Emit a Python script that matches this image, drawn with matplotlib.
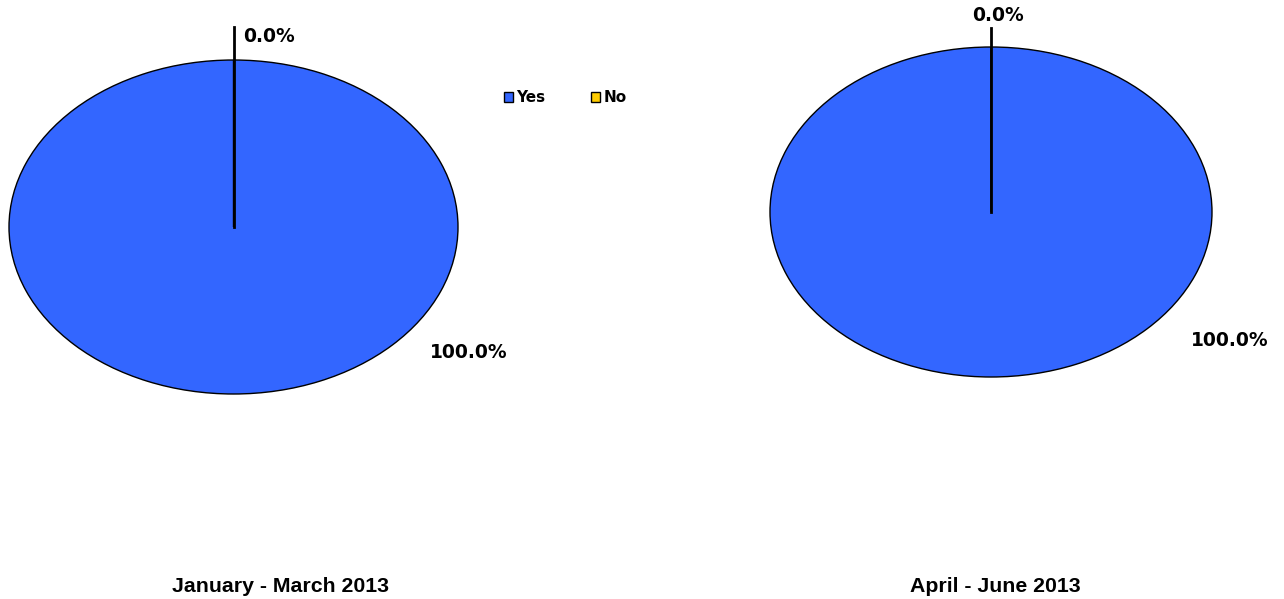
import matplotlib
matplotlib.use("Agg")
import matplotlib.pyplot as plt
from matplotlib.patches import Patch

W, H = 1284, 599

CATEGORIES = ["Yes", "No"]
COLORS = ["#3366FF", "#FFCC00"]
PERIODS = ["January - March 2013", "April - June 2013"]
VALUES = [
    [100.0, 0.0],
    [100.0, 0.0],
]

# ellipse boxes in pixels: left, top, right, bottom
BOXES = [(9, 60, 458, 394), (770, 47, 1212, 377)]
# label offsets in data units (pie radius = 1)
LABEL_POS = [
    [(1.05, -0.75), (0.16, 1.14)],
    [(1.08, -0.78), (0.03, 1.19)],
]
LEADER_TOP = [1.20, 1.115]
TITLE_X = [280, 995]

fig = plt.figure(figsize=(W / 100, H / 100), dpi=100)

for i, vals in enumerate(VALUES):
    l, t, r, b = BOXES[i]
    ax = fig.add_axes([l / W, (H - b) / H, (r - l) / W, (b - t) / H])
    wedges, _ = ax.pie(vals, colors=COLORS, startangle=90, counterclock=False,
                       wedgeprops=dict(edgecolor="black", linewidth=1.0))
    for w in wedges:
        w.set_clip_on(False)
    ax.set_aspect("auto")
    ax.set_xlim(-1, 1)
    ax.set_ylim(-1, 1)
    ax.axis("off")

    total = sum(vals)
    # radial edge of the empty slice + leader line
    ax.plot([0, 0], [0, LEADER_TOP[i]], color="black", lw=2, clip_on=False)
    for j, v in enumerate(vals):
        x, y = LABEL_POS[i][j]
        ax.text(x, y, f"{v / total * 100:.1f}%", ha="center", va="center",
                fontsize=13.5, fontweight="bold", family="DejaVu Sans")

    fig.text(TITLE_X[i] / W, 1 - 586 / H, PERIODS[i], ha="center", va="center",
             fontsize=15.3, fontweight="bold", family="Liberation Sans")

handles = [Patch(facecolor=c, edgecolor="black", linewidth=1) for c in COLORS]
fig.legend(handles, CATEGORIES, loc="center", bbox_to_anchor=(565 / W, 1 - 98 / H),
           ncol=2, frameon=False, handlelength=0.6, handleheight=0.6,
           handletextpad=0.2, columnspacing=3.0,
           prop=dict(size=11, weight="bold", family="DejaVu Sans"))

fig.savefig("out.png", dpi=100)
